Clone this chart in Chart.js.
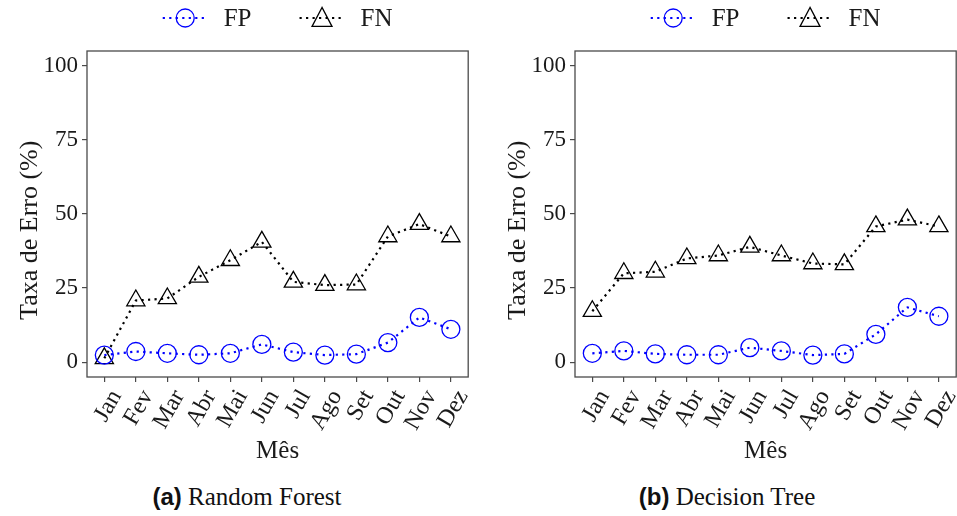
<!DOCTYPE html>
<html>
<head>
<meta charset="utf-8">
<script src="https://cdn.jsdelivr.net/npm/chart.js@4/dist/chart.umd.min.js"></script>
<style>
  html, body { margin: 0; padding: 0; background: #fff; overflow: hidden; width: 957px; height: 516px; }
  canvas { position: absolute; top: 0; }
  #chartA { left: 0; }
  #chartB { left: 488px; }
  .caption { position: absolute; top: 483px; width: 400px; text-align: center; font: 25px "Liberation Serif", serif; color: #111; }
  .caption b { font: bold 24px "Liberation Sans", Arial, sans-serif; }
</style>
</head>
<body>
<canvas id="chartA" width="480" height="470"></canvas>
<canvas id="chartB" width="480" height="470"></canvas>
<div class="caption" style="left:47px"><b>(a)</b> Random Forest</div>
<div class="caption" style="left:527px"><b>(b)</b> Decision Tree</div>
<script>
var months = ['Jan', 'Fev', 'Mar', 'Abr', 'Mai', 'Jun', 'Jul', 'Ago', 'Set', 'Out', 'Nov', 'Dez'];
var yTicks = [0, 25, 50, 75, 100];

// Random Forest
var rfFP = [2.4, 3.6, 3.0, 2.5, 3.0, 6.0, 3.4, 2.4, 2.7, 6.6, 15.1, 11.1];
var rfFN = [1.3, 20.8, 21.5, 28.8, 34.4, 40.6, 27.1, 26.0, 26.2, 42.4, 46.6, 42.4];

// Decision Tree
var dtFP = [3.0, 3.8, 2.8, 2.5, 2.5, 4.9, 3.8, 2.4, 2.8, 9.4, 18.5, 15.5];
var dtFN = [17.2, 30.0, 30.5, 35.0, 36.0, 38.9, 36.0, 33.3, 33.0, 45.8, 48.1, 45.8];

var serif = '"Liberation Serif", serif';
var textColor = '#1a1a1a';
var frameColor = '#4a4a4a';

function markerPath(ctx, style, r, x, y) {
    ctx.beginPath();
    if (style === 'triangle') {
        ctx.moveTo(x, y - r);
        ctx.lineTo(x - r * 0.95, y + r * 0.8);
        ctx.lineTo(x + r * 0.95, y + r * 0.8);
        ctx.closePath();
    } else {
        ctx.arc(x, y, r, 0, Math.PI * 2);
    }
}

// caixa completa em volta da área do gráfico
var framePlugin = {
    id: 'frame',
    beforeDatasetsDraw: function (chart) {
        var a = chart.chartArea, ctx = chart.ctx;
        ctx.save();
        ctx.strokeStyle = frameColor;
        ctx.lineWidth = 1.3;
        ctx.strokeRect(a.left, a.top, a.right - a.left, a.bottom - a.top);
        ctx.restore();
    }
};

// legenda no topo, estilo matplotlib
var topLegend = {
    id: 'topLegend',
    afterDraw: function (chart) {
        var ctx = chart.ctx, a = chart.chartArea;
        var lineLen = 45, gap = 16, between = 48, y = 18;
        ctx.save();
        ctx.font = '25px ' + serif;
        var items = chart.data.datasets.map(function (ds) {
            return { ds: ds, w: ctx.measureText(ds.label).width };
        });
        var total = between * (items.length - 1);
        items.forEach(function (it) { total += lineLen + gap + it.w; });
        var x = (a.left + a.right) / 2 - total / 2;
        items.forEach(function (it) {
            var ds = it.ds;
            ctx.strokeStyle = ds.borderColor;
            ctx.lineWidth = ds.borderWidth;
            ctx.setLineDash(ds.borderDash);
            ctx.beginPath();
            ctx.moveTo(x, y);
            ctx.lineTo(x + lineLen, y);
            ctx.stroke();
            ctx.setLineDash([]);
            ctx.lineWidth = ds.pointBorderWidth;
            markerPath(ctx, ds.pointStyle, ds.pointRadius, x + lineLen / 2, y);
            ctx.stroke();
            ctx.fillStyle = textColor;
            ctx.textBaseline = 'middle';
            ctx.fillText(ds.label, x + lineLen + gap, y + 1);
            x += lineLen + gap + it.w + between;
        });
        ctx.restore();
    }
};

function series(label, values, color, style, radius) {
    return {
        label: label,
        data: values.map(function (v, i) { return { x: i, y: v }; }),
        borderColor: color,
        borderWidth: 2.2,
        borderDash: [2.2, 4.3],
        pointStyle: style,
        pointRadius: radius,
        pointBorderWidth: 1.3,
        pointBorderColor: color,
        pointBackgroundColor: 'rgba(0,0,0,0)',
        pointHoverRadius: radius,
        fill: false,
        tension: 0
    };
}

function makeChart(id, fp, fn) {
    new Chart(document.getElementById(id), {
        type: 'line',
        data: {
            datasets: [
                series('FP', fp, '#0000ff', 'circle', 9),
                series('FN', fn, '#000000', 'triangle', 10.5)
            ]
        },
        options: {
            responsive: false,
            animation: false,
            layout: { padding: { top: 51, right: 11, bottom: 4, left: 0 } },
            plugins: { legend: { display: false }, tooltip: { enabled: false } },
            scales: {
                x: {
                    type: 'linear',
                    min: -0.55,
                    max: 11.55,
                    afterBuildTicks: function (s) { s.ticks = months.map(function (m, i) { return { value: i }; }); },
                    afterFit: function (s) { s.height = 89; },
                    ticks: {
                        autoSkip: false,
                        minRotation: 60,
                        maxRotation: 60,
                        labelOffset: 12,
                        padding: 3,
                        color: textColor,
                        font: { family: serif, size: 24 },
                        callback: function (v) { return months[v]; }
                    },
                    grid: { drawOnChartArea: false, tickLength: 5, color: frameColor, lineWidth: 1.2 },
                    border: { display: false },
                    title: { display: true, text: 'Mês', color: textColor, font: { family: serif, size: 25 }, padding: { top: 0, bottom: 0 } }
                },
                y: {
                    min: -5,
                    max: 105,
                    afterBuildTicks: function (s) { s.ticks = yTicks.map(function (v) { return { value: v }; }); },
                    afterFit: function (s) { s.width = 87; },
                    ticks: { padding: 4, color: textColor, font: { family: serif, size: 23 } },
                    grid: { drawOnChartArea: false, tickLength: 5, color: frameColor, lineWidth: 1.2 },
                    border: { display: false },
                    title: { display: true, text: 'Taxa de Erro (%)     ', color: textColor, font: { family: serif, size: 26 }, padding: { top: 15, bottom: 0 } }
                }
            }
        },
        plugins: [framePlugin, topLegend]
    });
}

makeChart('chartA', rfFP, rfFN);
makeChart('chartB', dtFP, dtFN);
</script>
</body>
</html>
